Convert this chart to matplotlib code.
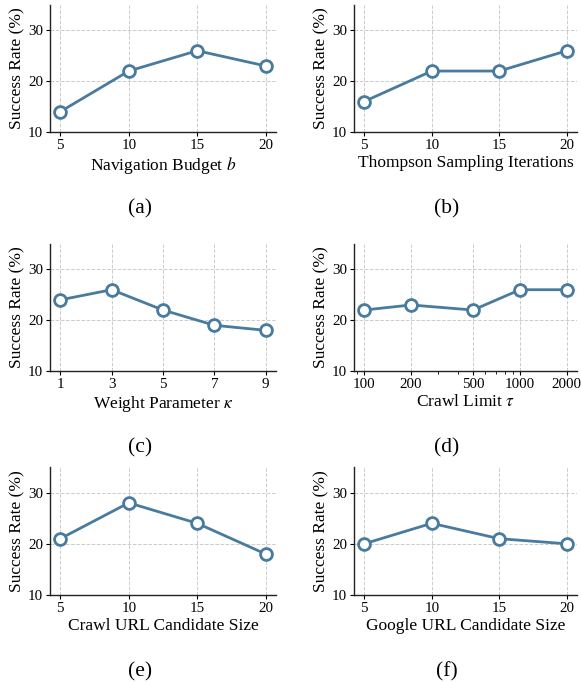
import matplotlib
matplotlib.use("Agg")
import matplotlib.pyplot as plt
from matplotlib.ticker import FixedLocator, FixedFormatter, NullFormatter

plt.rcParams['font.family'] = ['Liberation Serif', 'DejaVu Serif']
plt.rcParams['mathtext.fontset'] = 'stix'

# Data
budget_x = [5, 10, 15, 20]
budget_y = [14, 22, 26, 23]
thompson_x = [5, 10, 15, 20]
thompson_y = [16, 22, 22, 26]
kappa_x = [1, 3, 5, 7, 9]
kappa_y = [24, 26, 22, 19, 18]
crawl_x = [100, 200, 500, 1000, 2000]
crawl_y = [22, 23, 22, 26, 26]
crawlurl_x = [5, 10, 15, 20]
crawlurl_y = [21, 28, 24, 18]
google_x = [5, 10, 15, 20]
google_y = [20, 24, 21, 20]

panels = [
    (budget_x, budget_y, r'Navigation Budget $b$', '(a)', False),
    (thompson_x, thompson_y, 'Thompson Sampling Iterations', '(b)', False),
    (kappa_x, kappa_y, r'Weight Parameter $\kappa$', '(c)', False),
    (crawl_x, crawl_y, r'Crawl Limit $\tau$', '(d)', True),
    (crawlurl_x, crawlurl_y, 'Crawl URL Candidate Size', '(e)', False),
    (google_x, google_y, 'Google URL Candidate Size', '(f)', False),
]

W, H = 581, 682
fig = plt.figure(figsize=(W / 100, H / 100), dpi=100)

cols = [(50, 276), (354, 577)]
rows = [(5, 132), (244, 371), (467, 595)]
label_x = [140, 447]
label_dy = 77

color = '#487b9d'

for i, (xs, ys, xlabel, tag, logx) in enumerate(panels):
    r, c = divmod(i, 2)
    x0, x1 = cols[c]
    y0, y1 = rows[r]
    ax = fig.add_axes([x0 / W, 1 - y1 / H, (x1 - x0) / W, (y1 - y0) / H])
    ax.plot(xs, ys, color=color, lw=2, marker='o', ms=8.5, mfc='white',
            mec=color, mew=2, zorder=3)
    if logx:
        ax.set_xscale('log')
        ax.xaxis.set_major_locator(FixedLocator(xs))
        ax.xaxis.set_major_formatter(FixedFormatter([str(v) for v in xs]))
        ax.xaxis.set_minor_formatter(NullFormatter())
    else:
        ax.set_xticks(xs)
    ax.set_ylim(10, 35)
    ax.set_yticks([10, 20, 30])
    ax.grid(True, which='major', ls='--', lw=0.7, color='#cccccc')
    ax.set_axisbelow(True)
    for s in ['top', 'right']:
        ax.spines[s].set_visible(False)
    for s in ['left', 'bottom']:
        ax.spines[s].set_linewidth(1.0)
        ax.spines[s].set_color('#222222')
    ax.tick_params(labelsize=10.8, length=3, width=0.8, pad=2)
    ax.set_xlabel(xlabel, fontsize=12.5, labelpad=2)
    ax.set_ylabel('Success Rate (%)', fontsize=12.5, labelpad=2)
    fig.text(label_x[c] / W, 1 - (y1 + label_dy) / H, tag, ha='center',
             va='center', fontsize=15.5)

fig.savefig('out.png', dpi=100)
